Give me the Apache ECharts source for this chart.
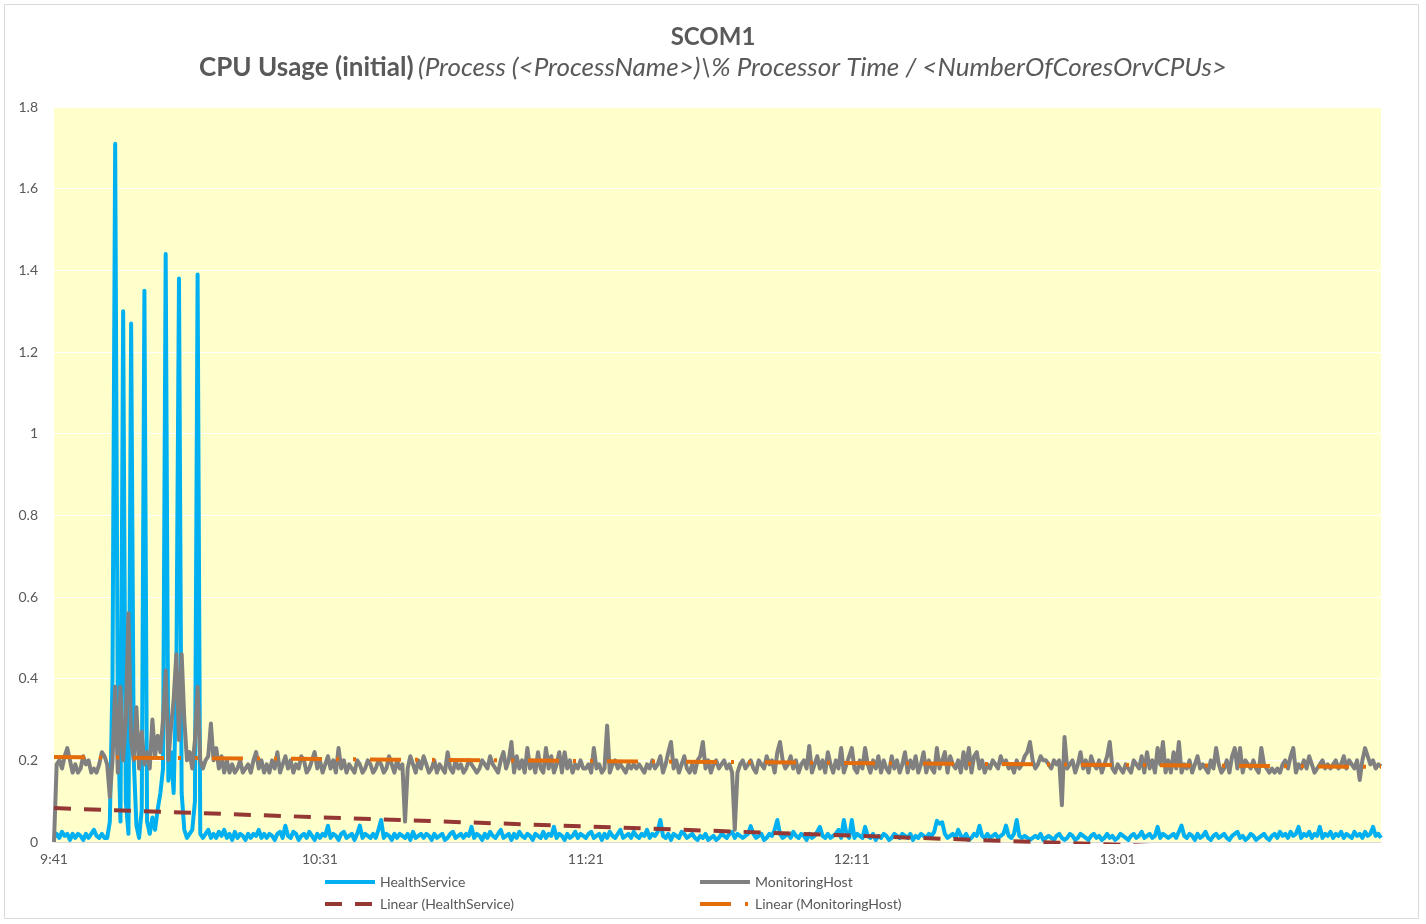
<!DOCTYPE html>
<html>
<head>
<meta charset="utf-8">
<title>SCOM1 CPU Usage</title>
<script src="https://cdn.jsdelivr.net/npm/echarts@6/dist/echarts.min.js"></script>
<style>
  html, body { margin: 0; padding: 0; background: #fff; }
  #main { width: 1426px; height: 924px; }
</style>
</head>
<body>
<div id="main"></div>
<script>
// samples every 30 seconds, starting 9:41
var startHour = 9, startMinute = 41, stepSeconds = 30;

// HealthService, 20 samples (10 minutes) per row
var healthService = [
  0.01, 0.02, 0.01, 0.025, 0.015, 0.02, 0.005, 0.02, 0.01, 0.02, 0.015, 0.005, 0.02, 0.01, 0.02, 0.03, 0.015, 0.01, 0.02, 0.01,
  0.01, 0.05, 0.4, 1.71, 0.3, 0.05, 1.30, 0.1, 0.02, 1.27, 0.2, 0.04, 0.01, 0.08, 1.35, 0.05, 0.02, 0.06, 0.03, 0.08,
  0.12, 0.18, 1.44, 0.15, 0.22, 0.12, 0.4, 1.38, 0.12, 0.03, 0.01, 0.02, 0.03, 0.1, 1.39, 0.02, 0.01, 0.02, 0.03, 0.01,
  0.02, 0.01, 0.025, 0.015, 0.03, 0.01, 0.02, 0.005, 0.025, 0.01, 0.02, 0.015, 0.005, 0.02, 0.01, 0.02, 0.015, 0.03, 0.01, 0.02,
  0.01, 0.02, 0.015, 0.005, 0.02, 0.025, 0.01, 0.04, 0.015, 0.01, 0.025, 0.02, 0.005, 0.015, 0.02, 0.01, 0.025, 0.015, 0.005, 0.02,
  0.01, 0.02, 0.015, 0.04, 0.01, 0.02, 0.015, 0.005, 0.02, 0.025, 0.01, 0.015, 0.02, 0.005, 0.02, 0.04, 0.01, 0.02, 0.015, 0.01,
  0.02, 0.01, 0.03, 0.054, 0.01, 0.02, 0.015, 0.005, 0.02, 0.01, 0.02, 0.015, 0.01, 0.02, 0.005, 0.025, 0.01, 0.015, 0.02, 0.01,
  0.02, 0.015, 0.005, 0.02, 0.01, 0.015, 0.02, 0.005, 0.01, 0.02, 0.025, 0.01, 0.015, 0.02, 0.01, 0.02, 0.015, 0.037, 0.01, 0.02,
  0.015, 0.005, 0.02, 0.01, 0.025, 0.015, 0.01, 0.02, 0.03, 0.01, 0.015, 0.02, 0.005, 0.02, 0.01, 0.025, 0.015, 0.01, 0.02, 0.015,
  0.005, 0.02, 0.015, 0.01, 0.025, 0.01, 0.02, 0.015, 0.037, 0.01, 0.02, 0.015, 0.005, 0.02, 0.01, 0.015, 0.025, 0.01, 0.02, 0.015,
  0.01, 0.02, 0.025, 0.01, 0.015, 0.02, 0.005, 0.02, 0.01, 0.025, 0.015, 0.01, 0.02, 0.03, 0.01, 0.015, 0.02, 0.01, 0.025, 0.015,
  0.01, 0.02, 0.015, 0.03, 0.01, 0.02, 0.015, 0.025, 0.054, 0.015, 0.01, 0.02, 0.005, 0.02, 0.015, 0.01, 0.025, 0.02, 0.01, 0.015,
  0.02, 0.01, 0.005, 0.015, 0.01, 0.02, 0.005, 0.01, 0.015, 0.005, 0.01, 0.02, 0.015, 0.01, 0.02, 0.025, 0.01, 0.02, 0.015, 0.01,
  0.015, 0.02, 0.039, 0.02, 0.01, 0.015, 0.02, 0.005, 0.01, 0.02, 0.015, 0.03, 0.054, 0.02, 0.01, 0.015, 0.02, 0.01, 0.025, 0.015,
  0.01, 0.02, 0.015, 0.005, 0.02, 0.01, 0.015, 0.025, 0.037, 0.015, 0.01, 0.02, 0.01, 0.015, 0.02, 0.03, 0.01, 0.054, 0.02, 0.01,
  0.054, 0.01, 0.02, 0.015, 0.01, 0.037, 0.015, 0.01, 0.02, 0.005, 0.015, 0.01, 0.02, 0.015, 0.005, 0.01, 0.02, 0.015, 0.01, 0.02,
  0.015, 0.01, 0.02, 0.005, 0.015, 0.01, 0.02, 0.015, 0.01, 0.02, 0.015, 0.025, 0.052, 0.045, 0.048, 0.02, 0.01, 0.015, 0.02, 0.01,
  0.03, 0.015, 0.01, 0.02, 0.005, 0.01, 0.02, 0.015, 0.04, 0.015, 0.01, 0.02, 0.01, 0.015, 0.02, 0.01, 0.015, 0.02, 0.04, 0.015,
  0.01, 0.02, 0.054, 0.015, 0.01, 0.015, 0.01, 0.005, 0.01, 0.015, 0.01, 0.02, 0.005, 0.01, 0.015, 0.01, 0.005, 0.015, 0.02, 0.01,
  0.005, 0.01, 0.02, 0.015, 0.005, 0.01, 0.02, 0.015, 0.01, 0.005, 0.015, 0.02, 0.01, 0.015, 0.005, 0.01, 0.02, 0.01, 0.015, 0.005,
  0.01, 0.02, 0.015, 0.01, 0.005, 0.015, 0.02, 0.01, 0.015, 0.025, 0.01, 0.015, 0.02, 0.01, 0.015, 0.037, 0.01, 0.02, 0.015, 0.01,
  0.015, 0.02, 0.01, 0.025, 0.04, 0.015, 0.01, 0.02, 0.015, 0.005, 0.02, 0.01, 0.015, 0.025, 0.01, 0.005, 0.015, 0.02, 0.01, 0.015,
  0.02, 0.01, 0.005, 0.015, 0.02, 0.025, 0.01, 0.015, 0.005, 0.01, 0.02, 0.015, 0.005, 0.01, 0.015, 0.02, 0.01, 0.005, 0.015, 0.02,
  0.01, 0.025, 0.015, 0.02, 0.01, 0.025, 0.015, 0.02, 0.037, 0.01, 0.02, 0.015, 0.025, 0.01, 0.02, 0.015, 0.037, 0.01, 0.02, 0.015,
  0.025, 0.01, 0.02, 0.015, 0.025, 0.01, 0.02, 0.015, 0.01, 0.025, 0.015, 0.02, 0.01, 0.025, 0.015, 0.02, 0.037, 0.015, 0.02, 0.01
];

// MonitoringHost, same layout
var monitoringHost = [
  0.0, 0.19, 0.2, 0.18, 0.21, 0.23, 0.2, 0.17, 0.19, 0.17, 0.18, 0.21, 0.19, 0.2, 0.17, 0.18, 0.17, 0.19, 0.22, 0.21,
  0.19, 0.11, 0.2, 0.38, 0.17, 0.38, 0.2, 0.3, 0.56, 0.25, 0.2, 0.33, 0.18, 0.27, 0.19, 0.22, 0.18, 0.3, 0.21, 0.26,
  0.22, 0.3, 0.42, 0.2, 0.28, 0.35, 0.46, 0.25, 0.46, 0.3, 0.2, 0.22, 0.18, 0.25, 0.38, 0.2, 0.18, 0.2, 0.21, 0.29,
  0.2, 0.23, 0.18, 0.21, 0.17, 0.2, 0.17, 0.19, 0.17, 0.18, 0.2, 0.17, 0.18, 0.19, 0.17, 0.2, 0.22, 0.18, 0.2, 0.17,
  0.19, 0.17, 0.2, 0.18, 0.22, 0.17, 0.19, 0.21, 0.18, 0.2, 0.17, 0.19, 0.18, 0.21, 0.2, 0.17, 0.18, 0.2, 0.22, 0.18,
  0.2, 0.17, 0.19, 0.21, 0.18, 0.2, 0.17, 0.23, 0.18, 0.2, 0.17, 0.19, 0.18, 0.17, 0.2, 0.19, 0.17, 0.18, 0.2, 0.19,
  0.17, 0.18, 0.2, 0.19, 0.17, 0.18, 0.21, 0.19, 0.17, 0.2, 0.18, 0.19, 0.05, 0.18, 0.21, 0.19, 0.17, 0.2, 0.18, 0.21,
  0.19, 0.17, 0.18, 0.2, 0.17, 0.19, 0.18, 0.17, 0.22, 0.18, 0.17, 0.2, 0.18, 0.19, 0.17, 0.18, 0.2, 0.19, 0.18, 0.17,
  0.18, 0.2, 0.19, 0.18, 0.21, 0.19, 0.18, 0.17, 0.2, 0.22, 0.18, 0.2, 0.245, 0.17, 0.21, 0.18, 0.2, 0.17, 0.23, 0.18,
  0.2, 0.17, 0.22, 0.18, 0.17, 0.23, 0.18, 0.21, 0.17, 0.19, 0.22, 0.17, 0.22, 0.18, 0.2, 0.17, 0.19, 0.18, 0.2, 0.18,
  0.18, 0.19, 0.17, 0.23, 0.18, 0.19, 0.17, 0.18, 0.285, 0.17, 0.19, 0.2, 0.18, 0.19, 0.18, 0.17, 0.19, 0.18, 0.19, 0.18,
  0.19, 0.18, 0.17, 0.19, 0.18, 0.2, 0.18, 0.19, 0.21, 0.17, 0.19, 0.22, 0.245, 0.18, 0.2, 0.17, 0.19, 0.21, 0.18, 0.17,
  0.19, 0.17, 0.2, 0.21, 0.245, 0.18, 0.2, 0.17, 0.19, 0.2, 0.18, 0.19, 0.2, 0.18, 0.19, 0.17, 0.03, 0.17, 0.19, 0.2,
  0.18, 0.19, 0.2, 0.18, 0.17, 0.2, 0.19, 0.18, 0.21, 0.19, 0.2, 0.17, 0.22, 0.245, 0.2, 0.18, 0.19, 0.21, 0.18, 0.2,
  0.17, 0.19, 0.2, 0.18, 0.235, 0.17, 0.19, 0.21, 0.18, 0.2, 0.17, 0.22, 0.19, 0.17, 0.2, 0.18, 0.23, 0.17, 0.19, 0.21,
  0.23, 0.18, 0.17, 0.2, 0.18, 0.23, 0.19, 0.17, 0.2, 0.18, 0.21, 0.17, 0.2, 0.18, 0.17, 0.21, 0.18, 0.2, 0.17, 0.19,
  0.22, 0.17, 0.2, 0.18, 0.21, 0.17, 0.19, 0.22, 0.17, 0.2, 0.18, 0.17, 0.23, 0.18, 0.2, 0.22, 0.17, 0.21, 0.19, 0.18,
  0.2, 0.17, 0.22, 0.18, 0.23, 0.17, 0.21, 0.22, 0.18, 0.2, 0.17, 0.19, 0.18, 0.2, 0.19, 0.18, 0.21, 0.19, 0.2, 0.18,
  0.19, 0.17, 0.2, 0.18, 0.19, 0.21, 0.22, 0.245, 0.2, 0.18, 0.19, 0.21, 0.2, 0.2, 0.19, 0.18, 0.2, 0.19, 0.2, 0.09,
  0.257, 0.18, 0.19, 0.2, 0.17, 0.19, 0.22, 0.18, 0.2, 0.17, 0.21, 0.19, 0.18, 0.2, 0.17, 0.19, 0.21, 0.245, 0.18, 0.17,
  0.19, 0.18, 0.17, 0.19, 0.18, 0.17, 0.2, 0.19, 0.18, 0.21, 0.17, 0.22, 0.18, 0.2, 0.17, 0.23, 0.19, 0.245, 0.17, 0.2,
  0.17, 0.22, 0.18, 0.245, 0.17, 0.19, 0.18, 0.2, 0.17, 0.19, 0.21, 0.18, 0.19, 0.18, 0.17, 0.2, 0.18, 0.23, 0.19, 0.17,
  0.18, 0.2, 0.17, 0.21, 0.23, 0.18, 0.23, 0.17, 0.2, 0.19, 0.18, 0.2, 0.18, 0.17, 0.23, 0.19, 0.18, 0.17, 0.18, 0.17,
  0.18, 0.17, 0.19, 0.2, 0.18, 0.21, 0.23, 0.17, 0.19, 0.18, 0.2, 0.18, 0.21, 0.19, 0.17, 0.18, 0.19, 0.2, 0.18, 0.19,
  0.18, 0.19, 0.2, 0.18, 0.19, 0.21, 0.18, 0.2, 0.19, 0.18, 0.2, 0.152, 0.2, 0.23, 0.21, 0.19, 0.2, 0.18, 0.19, 0.185
];

// linear trend lines, value at first and last sample
var hsTrend = [0.083, -0.029];
var mhTrend = [0.208, 0.184];

var seriesNames = ['HealthService', 'MonitoringHost', 'Linear (HealthService)', 'Linear (MonitoringHost)'];

// time categories
var categories = [];
for (var i = 0; i < monitoringHost.length; i++) {
    var sec = startHour * 3600 + startMinute * 60 + i * stepSeconds;
    var h = Math.floor(sec / 3600), m = Math.floor(sec / 60) % 60, s = sec % 60;
    categories.push(h + ':' + (m < 10 ? '0' : '') + m + ':' + (s < 10 ? '0' : '') + s);
}
var last = categories.length - 1;

var myChart = echarts.init(document.getElementById('main'));
var font = 'Lato, "Open Sans", sans-serif';

// legend: line only, hide the circle echarts puts on line series icons
var legendBase = {
    orient: 'vertical',
    top: 870,
    itemWidth: 50, itemHeight: 14, itemGap: 8,
    itemStyle: { opacity: 0 },
    lineStyle: { width: 4 },
    textStyle: { color: '#595959', fontSize: 14, fontFamily: font }
};

var option = {
    backgroundColor: '#ffffff',
    animation: false,
    textStyle: { fontFamily: font },
    title: [{
        text: 'SCOM1',
        left: 'center',
        top: 20,
        textStyle: { color: '#595959', fontSize: 24, fontWeight: 'bold', fontFamily: font }
    }, {
        text: '{b|CPU Usage (initial)} {i|(Process (<ProcessName>)\\% Processor Time / <NumberOfCoresOrvCPUs>}',
        left: 'center',
        top: 50,
        textStyle: {
            rich: {
                b: { color: '#595959', fontSize: 26, fontWeight: 'bold', fontFamily: font },
                i: { color: '#595959', fontSize: 26, fontWeight: 'normal', fontStyle: 'italic', fontFamily: font }
            }
        }
    }],
    grid: { left: 54, right: 45, top: 107, bottom: 82, backgroundColor: '#FFFFCC', show: true, borderWidth: 0 },
    legend: [
        Object.assign({ data: [seriesNames[0], seriesNames[2]], left: 318 }, legendBase),
        Object.assign({ data: [seriesNames[1], seriesNames[3]], left: 693 }, legendBase)
    ],
    xAxis: {
        type: 'category',
        data: categories,
        boundaryGap: false,
        axisLine: { show: true, lineStyle: { color: '#D9D9D9' } },
        axisTick: { show: false },
        axisLabel: {
            interval: 99,
            color: '#595959',
            fontSize: 14,
            margin: 10,
            formatter: function (v) { return v.slice(0, v.lastIndexOf(':')); }
        },
        splitLine: { show: false }
    },
    yAxis: {
        type: 'value',
        min: 0, max: 1.8, interval: 0.2,
        axisLine: { show: false },
        axisTick: { show: false },
        axisLabel: { color: '#595959', fontSize: 14, margin: 16 },
        splitLine: { lineStyle: { color: '#FFFFFF', width: 1 } }
    },
    series: [{
        name: seriesNames[0],
        type: 'line',
        data: healthService,
        showSymbol: false, symbol: 'none',
        color: '#00B0F0',
        lineStyle: { color: '#00B0F0', width: 4, join: 'round' }
    }, {
        name: seriesNames[1],
        type: 'line',
        data: monitoringHost,
        showSymbol: false, symbol: 'none',
        color: '#808080',
        lineStyle: { color: '#808080', width: 4, join: 'round' }
    }, {
        name: seriesNames[2],
        type: 'line',
        data: [[0, hsTrend[0]], [last, hsTrend[1]]],
        showSymbol: false, symbol: 'none',
        clip: true,
        color: '#953735',
        lineStyle: { color: '#953735', width: 4, type: [17, 13] }
    }, {
        name: seriesNames[3],
        type: 'line',
        data: [[0, mhTrend[0]], [last, mhTrend[1]]],
        showSymbol: false, symbol: 'none',
        clip: true,
        color: '#E46C0A',
        lineStyle: { color: '#E46C0A', width: 4, type: [31, 14, 3, 14, 3, 14] }
    }],
    graphic: [{
        type: 'rect',
        shape: { x: 4.5, y: 4.5, width: 1414, height: 914 },
        style: { fill: null, stroke: '#D9D9D9', lineWidth: 1 },
        silent: true
    }]
};

myChart.setOption(option);
</script>
</body>
</html>
